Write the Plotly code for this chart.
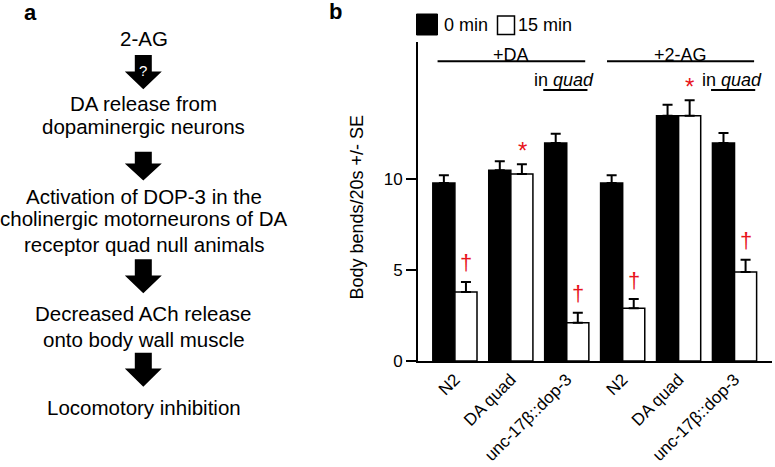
import plotly.graph_objects as go

# ---------------- data ----------------
tick_labels = ["N2", "DA quad", "unc-17β::dop-3", "N2", "DA quad", "unc-17β::dop-3"]
treatments = ["+DA", "+2-AG"]
bends_0min = [9.8, 10.5, 12.0, 9.8, 13.5, 12.0]
se_0min = [0.42, 0.50, 0.51, 0.42, 0.60, 0.55]
bends_15min = [3.8, 10.3, 2.1, 2.9, 13.5, 4.9]
se_15min = [0.55, 0.53, 0.55, 0.51, 0.86, 0.68]
sig_15min = ["†", "*", "†", "†", "*", "†"]
flow_steps = [
    ["2-AG"],
    ["DA release from", "dopaminergic neurons"],
    ["Activation of DOP-3 in the", "cholinergic motorneurons of DA", "receptor quad null animals"],
    ["Decreased ACh release", "onto body wall muscle"],
    ["Locomotory inhibition"],
]

W, H = 775, 467
FONT = "Arial, Liberation Sans, sans-serif"


def px(x):
    return x / W


def py(y):
    return 1 - y / H


xpos = list(range(len(tick_labels)))

fig = go.Figure()
fig.add_trace(go.Bar(
    x=xpos, y=bends_0min, name="0 min", offsetgroup="a",
    marker=dict(color="black", line=dict(color="black", width=1.5)),
    error_y=dict(type="data", array=se_0min, arrayminus=[0] * 6, symmetric=False,
                 color="black", thickness=2, width=5),
))
fig.add_trace(go.Bar(
    x=xpos, y=bends_15min, name="15 min", offsetgroup="b",
    marker=dict(color="white", line=dict(color="black", width=1.5)),
    error_y=dict(type="data", array=se_15min, arrayminus=[0] * 6, symmetric=False,
                 color="black", thickness=2, width=5),
))

annotations = []
shapes = []

# significance marks above the 15 min bars
for i, (v, e, m) in enumerate(zip(bends_15min, se_15min, sig_15min)):
    if m == "*":
        annotations.append(dict(x=i + 0.2, y=v + e, xref="x", yref="y", text=m,
                                showarrow=False, yanchor="middle", yshift=14,
                                font=dict(family=FONT, size=24, color="#e8141c")))
    else:
        annotations.append(dict(x=i + 0.2, y=v + e, xref="x", yref="y", text=m,
                                showarrow=False, yanchor="middle", yshift=19,
                                font=dict(family=FONT, size=22, color="#e8141c")))

# treatment brackets
br = [(-0.31, 2.33), (2.72, 5.35)]
for (a, b), t in zip(br, treatments):
    shapes.append(dict(type="line", xref="x", yref="paper", x0=a, x1=b,
                       y0=py(61.3), y1=py(61.3), line=dict(color="black", width=2)))
    annotations.append(dict(x=(a + b) / 2, y=py(54.6), xref="x", yref="paper",
                            text=t, showarrow=False, xanchor="center", yanchor="middle",
                            font=dict(family=FONT, size=18, color="black")))

# "in quad" lines over unc-17β::dop-3 groups
for c in (2, 5):
    shapes.append(dict(type="line", xref="x", yref="paper", x0=c - 0.42, x1=c + 0.37,
                       y0=py(90), y1=py(90), line=dict(color="black", width=2)))
    annotations.append(dict(x=c - 0.05, y=py(79.6), xref="x", yref="paper",
                            text="in <i>quad</i>", showarrow=False, xanchor="center",
                            yanchor="middle",
                            font=dict(family=FONT, size=18, color="black")))

# legend (drawn)
shapes.append(dict(type="rect", xref="paper", yref="paper", x0=px(416.5), x1=px(437.5),
                   y0=py(35), y1=py(14), fillcolor="black", line=dict(color="black", width=1)))
shapes.append(dict(type="rect", xref="paper", yref="paper", x0=px(497.5), x1=px(514.5),
                   y0=py(34.5), y1=py(16), fillcolor="white", line=dict(color="black", width=1.5)))
annotations.append(dict(x=px(442), y=py(25.5), xref="paper", yref="paper", text="0 min",
                        showarrow=False, xanchor="left", yanchor="middle",
                        font=dict(family=FONT, size=18, color="black")))
annotations.append(dict(x=px(516), y=py(25.5), xref="paper", yref="paper", text="15 min",
                        showarrow=False, xanchor="left", yanchor="middle",
                        font=dict(family=FONT, size=18, color="black")))

# y-axis title
annotations.append(dict(x=px(356), y=py(207.5), xref="paper", yref="paper",
                        text="Body bends/20s +/- SE", textangle=-90, showarrow=False,
                        xanchor="center", yanchor="middle",
                        font=dict(family=FONT, size=18, color="black")))

# panel letters
annotations.append(dict(x=px(30), y=py(12.5), xref="paper", yref="paper", text="<b>a</b>",
                        showarrow=False, xanchor="center", yanchor="middle",
                        font=dict(family=FONT, size=22, color="black")))
annotations.append(dict(x=px(335), y=py(11.5), xref="paper", yref="paper", text="<b>b</b>",
                        showarrow=False, xanchor="center", yanchor="middle",
                        font=dict(family=FONT, size=22, color="black")))

# panel a: flowchart
CX = 143.5
line_centers = [[39], [103.3, 126.7], [196.3, 218, 244.7], [313.3, 339], [407.3]]
for lines, ys in zip(flow_steps, line_centers):
    for t, yy in zip(lines, ys):
        annotations.append(dict(x=px(CX), y=py(yy), xref="paper", yref="paper", text=t,
                                showarrow=False, xanchor="center", yanchor="middle",
                                font=dict(family=FONT, size=20.5, color="black")))

arrows = [(55, 71.5, 89.3), (151.7, 163.5, 180.5), (259.3, 275.5, 293.3), (352.7, 368.5, 386.7)]
cx = 143.3
for yt, yh, yp in arrows:
    pts = [(cx - 8.5, yt), (cx + 8.5, yt), (cx + 8.5, yh), (cx + 18.5, yh), (cx, yp),
           (cx - 18.5, yh), (cx - 8.5, yh)]
    path = "M " + " L ".join(f"{px(a):.5f},{py(b):.5f}" for a, b in pts) + " Z"
    shapes.append(dict(type="path", xref="paper", yref="paper", path=path,
                       fillcolor="black", line=dict(color="black", width=0)))
annotations.append(dict(x=px(143.3), y=py(70.5), xref="paper", yref="paper", text="?",
                        showarrow=False, xanchor="center", yanchor="middle",
                        font=dict(family=FONT, size=15, color="white")))

fig.update_layout(
    width=W, height=H,
    margin=dict(l=0, r=0, t=0, b=0),
    paper_bgcolor="white", plot_bgcolor="white",
    barmode="group", bargap=0.21, bargroupgap=0,
    showlegend=False,
    font=dict(family=FONT, color="black"),
    annotations=annotations, shapes=shapes,
    xaxis=dict(domain=[px(418), px(772)], range=[-0.66, 5.67], tickmode="array",
               tickvals=xpos, ticktext=tick_labels, tickangle=-45, ticks="",
               tickfont=dict(family=FONT, size=17, color="black"),
               showline=True, linecolor="black", linewidth=2, showgrid=False,
               zeroline=False, automargin=False),
    yaxis=dict(domain=[py(361), py(42)], range=[0, 17.56], tickmode="array",
               tickvals=[0, 5, 10], ticks="outside", ticklen=10, tickwidth=2,
               tickcolor="black", tickfont=dict(family=FONT, size=17, color="black"),
               showline=True, linecolor="black", linewidth=2, showgrid=False,
               zeroline=False, automargin=False),
)

fig.write_html("out.html",
               config={"displayModeBar": False},
               post_script="document.body.style.margin='0';document.body.style.overflow='hidden';")
